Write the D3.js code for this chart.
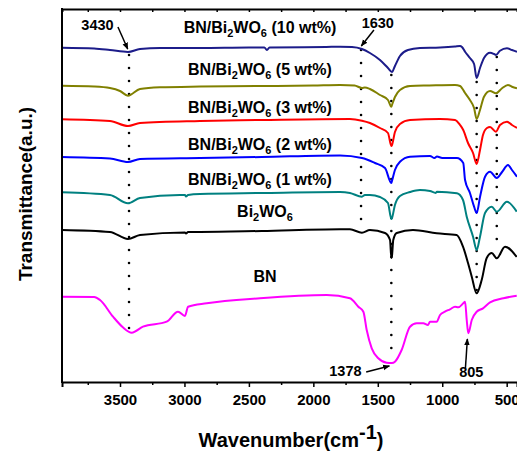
<!DOCTYPE html>
<html><head><meta charset="utf-8">
<script src="https://cdn.jsdelivr.net/npm/d3@7"></script>
<style>
html,body{margin:0;padding:0;background:#fff;}
svg text{font-family:"Liberation Sans",Arial,sans-serif;font-weight:bold;fill:#000;}
</style></head>
<body><svg id="c" width="517" height="453"></svg>
<script>
// ---- data (wavenumber cm-1, transmittance a.u.) ----
const s10 = [[3950,334.3],[3700,333.5],[3578,332],[3438,330],[3345,333],[3190,334],[2879,334],[2500,334.5],[2380,334.5],[2360,332],[2340,334.5],[1900,335],[1793,335.3],[1700,335],[1623,333],[1561,329],[1483,322],[1421,314],[1390,310],[1367,316],[1328,326],[1266,332],[1173,334],[1017,334.5],[901,335.5],[862,336],[847,335],[823,330.3],[785,324],[753,318],[733,304],[707,314],[676,324],[629,329.3],[598,328],[583,327],[552,331.3],[498,333.7],[459,332],[420,330.3]];
const s5 = [[3950,296.3],[3700,295.5],[3578,294],[3500,291],[3438,286.3],[3345,293],[3190,294.7],[2879,295.5],[2400,296],[2000,296.5],[1793,297],[1680,296.5],[1623,294],[1600,294.5],[1561,293],[1483,287],[1421,282],[1395,275.3],[1390,277],[1367,285],[1328,292],[1250,296],[1100,296.5],[901,297],[862,296],[823,289],[785,282],[753,274],[733,263],[707,272],[676,285.3],[629,291],[583,288.7],[536,293.7],[490,297],[459,295.3],[420,293.7]];
const s3 = [[3950,262.7],[3578,261],[3438,256],[3345,259],[2879,261],[2400,262],[1716,263],[1623,261.3],[1561,259],[1483,254],[1421,249],[1395,236],[1390,237],[1367,250],[1328,258],[1250,262],[1017,263],[901,262],[862,257],[837,252],[800,239],[761,229],[733,218],[707,232],[684,247],[653,254],[629,255],[583,250.3],[552,257],[498,260.3],[459,257],[420,254]];
const s2 = [[3950,225],[3578,223.5],[3438,220],[3345,223],[2879,224],[2400,225],[1793,226.5],[1623,224],[1522,219],[1444,214],[1395,199],[1390,201],[1367,212],[1328,220.3],[1250,225.3],[1095,226],[1060,224],[1041,225.5],[1000,224],[886,224],[837,219],[823,202],[785,189],[753,175.3],[733,169],[707,185],[668,205.3],[629,210.3],[577,204],[536,210],[490,217],[459,212],[420,205.3]];
const s1 = [[3950,189.7],[3578,187],[3438,178.7],[3345,184],[3035,187],[2996,187],[2988,185.5],[2972,187],[2879,188],[2400,189],[1793,190],[1716,189],[1623,185.3],[1600,187],[1561,187],[1483,185],[1421,179],[1395,163],[1390,164],[1367,177],[1328,186],[1250,190],[1173,192],[1095,191],[1050,189],[1041,190.3],[886,188.7],[839,182],[810,165.3],[761,145.3],[733,132],[707,145.3],[668,169],[616,175.3],[577,170.3],[498,180.3],[422,170.3]];
const sBWO = [[3950,152],[3578,150],[3438,143],[3345,147],[2996,149.5],[2988,148.5],[2972,150],[2879,150],[2400,151],[1793,152.7],[1716,152.7],[1623,149.3],[1561,152],[1444,149],[1405,142],[1395,124],[1390,126],[1380,142],[1353,149],[1227,152],[1043,148.7],[888,147],[839,135.3],[800,119],[771,105.3],[733,88.7],[694,102],[655,124],[616,129],[577,123.7],[513,135.3],[422,125]];
const sBN = [[3950,85.3],[3700,85],[3655,82],[3554,65.3],[3480,55],[3409,49.3],[3322,55.3],[3138,60.3],[3050,70.3],[2996,66],[2972,75.3],[2827,78.7],[2414,83.7],[1896,87],[1716,83.7],[1651,75.3],[1612,70.3],[1586,52],[1547,33.7],[1496,23.7],[1431,19.3],[1390,19],[1367,20.3],[1315,32],[1250,55.3],[1198,58.7],[1147,58.7],[1111,57],[1095,60.3],[1043,60.3],[1017,67],[979,70.3],[940,72.7],[901,75.3],[876,74.7],[837,78.7],[823,80.3],[810,62],[798,48.7],[771,62],[733,70.3],[684,73.7],[629,79.7],[526,83.7],[422,86.3]];

const seriesNames = ["BN/Bi2WO6 (10 wt%)","BN/Bi2WO6 (5 wt%)","BN/Bi2WO6 (3 wt%)","BN/Bi2WO6 (2 wt%)","BN/Bi2WO6 (1 wt%)","Bi2WO6","BN"];
const seriesData = [s10, s5, s3, s2, s1, sBWO, sBN];
const seriesColors = ["#1c1c8a","#808000","#ff0000","#0000ff","#008080","#000000","#ff00ff"];
// label anchor: [wavenumber, value]
const labelPos = [[2414,349],[2414,307],[2414,269],[2414,232],[2414,197],[2375,165],[2375,100]];

const majorTicks = [3500,3000,2500,2000,1500,1000,500];
const minorTicks = [3750,3250,2750,2250,1750,1250,750];
// guide lines: [wavenumber, top value, bottom value]
const guides = [[3430,327,52],[1630,332,152],[1395,307,22],[733,300,90],[577,325,130]];
// peak annotations: text, text anchor [w,v], arrow from [w,v] to [w,v]
const peaks = [
  {t:"3430", at:[3675,352], from:[3516,355], to:[3440,333]},
  {t:"1630", at:[1500,354], from:[1530,352], to:[1628,336]},
  {t:"1378", at:[1751,6],   from:[1590,10],  to:[1410,16]},
  {t:"805",  at:[775,5],    from:[820,14],   to:[805,43]}
];

// ---- layout ----
const svg = d3.select("#c");
const L = 62, R = 517, T = 9, B = 382;
const x = d3.scaleLinear().domain([3950, 420]).range([L, R]);
const y = d3.scaleLinear().domain([0, 373]).range([B, T]);

const defs = svg.append("defs");
defs.append("clipPath").attr("id","clip")
  .append("rect").attr("x",L-3).attr("y",T).attr("width",R-L+3).attr("height",B-T);
defs.append("marker").attr("id","ah").attr("viewBox","0 0 10 10").attr("refX",9).attr("refY",5)
  .attr("markerWidth",7).attr("markerHeight",7).attr("orient","auto-start-reverse")
  .attr("markerUnits","userSpaceOnUse")
  .append("path").attr("d","M0,1 L10,5 L0,9 Z").attr("fill","#000");

// guides (dotted)
svg.append("g").selectAll("line").data(guides).join("line")
  .attr("x1",d=>x(d[0])).attr("x2",d=>x(d[0]))
  .attr("y1",d=>y(d[1])).attr("y2",d=>y(d[2]))
  .attr("stroke","#000").attr("stroke-width",2.6).attr("stroke-linecap","round")
  .attr("stroke-dasharray","0 13");

// curves
const line = d3.line().x(d=>x(d[0])).y(d=>y(d[1])).curve(d3.curveMonotoneX);
svg.append("g").attr("clip-path","url(#clip)").selectAll("path").data(seriesData).join("path")
  .attr("d",line).attr("fill","none")
  .attr("stroke",(d,i)=>seriesColors[i]).attr("stroke-width",2).attr("stroke-linejoin","round");

// axes
const gb = svg.append("g").attr("transform",`translate(0,${B})`);
gb.call(d3.axisBottom(x).tickValues(majorTicks).tickSize(5).tickPadding(7).tickFormat(d3.format("d")));
gb.call(g=>g.selectAll(".tick text").attr("font-size",15).style("font-weight","bold"));
gb.append("g").call(d3.axisBottom(x).tickValues(minorTicks).tickSize(3).tickFormat(""))
  .call(g=>g.select(".domain").remove());
const gt = svg.append("g").attr("transform",`translate(0,${T})`);
gt.call(d3.axisTop(x).tickValues(majorTicks.concat(minorTicks)).tickSize(-3).tickFormat(""));
svg.selectAll(".domain").attr("stroke-width",2);
svg.selectAll(".tick line").attr("stroke-width",1.5);
svg.append("line").attr("x1",L).attr("x2",L).attr("y1",T-1).attr("y2",B+1).attr("stroke","#000").attr("stroke-width",2);

// axis titles
const xt = svg.append("text").attr("x",291).attr("y",447).attr("text-anchor","middle").attr("font-size",20);
xt.append("tspan").text("Wavenumber(cm");
xt.append("tspan").attr("dy",-8).attr("font-size",20).text("-1");
xt.append("tspan").attr("dy",8).text(")");
svg.append("text").attr("transform","translate(32,194) rotate(-90)").attr("text-anchor","middle")
  .attr("font-size",19).text("Transmittance(a.u.)");

// series labels (digits after "Bi" and "WO" are subscripts)
function addLabel(name, pos){
  const t = svg.append("text").attr("x",x(pos[0])).attr("y",y(pos[1])).attr("text-anchor","middle").attr("font-size",16);
  const re = /(Bi)(2)|(WO)(6)/g;
  let last = 0, m, sub = false;
  while((m = re.exec(name))){
    const base = m[1]||m[3], digit = m[2]||m[4];
    t.append("tspan").attr("dy", sub?-4:0).text(name.slice(last, m.index) + base);
    t.append("tspan").attr("dy",4).attr("font-size",11).text(digit);
    sub = true; last = re.lastIndex;
  }
  if(last < name.length) t.append("tspan").attr("dy", sub?-4:0).text(name.slice(last));
}
seriesNames.forEach((n,i)=>addLabel(n, labelPos[i]));

// peak annotations
peaks.forEach(p=>{
  svg.append("text").attr("x",x(p.at[0])).attr("y",y(p.at[1])).attr("text-anchor","middle").attr("font-size",14.5).text(p.t);
  svg.append("line").attr("x1",x(p.from[0])).attr("y1",y(p.from[1])).attr("x2",x(p.to[0])).attr("y2",y(p.to[1]))
    .attr("stroke","#000").attr("stroke-width",1.5).attr("marker-end","url(#ah)");
});
</script></body></html>
